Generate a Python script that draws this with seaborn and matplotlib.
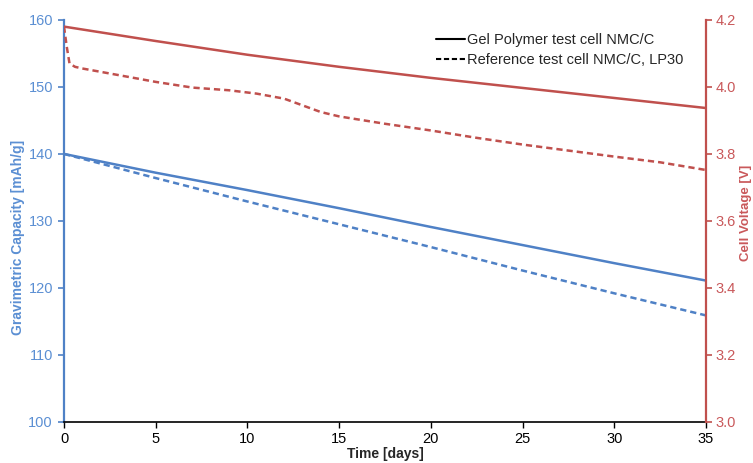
import matplotlib
matplotlib.use('Agg')
import matplotlib.pyplot as plt
import seaborn as sns
from matplotlib.lines import Line2D

# Data
dias = [0, 5, 10, 15, 20, 25, 30, 35]
capacidade_gel = [140.0, 137.2, 134.6, 131.9, 129.1, 126.4, 123.7, 121.1]
capacidade_ref = [140.0, 136.4, 132.9, 129.5, 126.1, 122.6, 119.2, 115.9]
tensao_gel = [4.180, 4.137, 4.096, 4.060, 4.027, 3.997, 3.967, 3.937]

dias_ref = [0, 0.15, 0.3, 0.6, 1, 2, 3, 5, 7, 9, 10.5, 12, 13, 14, 15,
            17.5, 20, 22.5, 25, 27.5, 30, 32.5, 35]
tensao_ref = [4.180, 4.120, 4.070, 4.060, 4.055, 4.045, 4.035, 4.015, 3.998,
              3.990, 3.980, 3.965, 3.945, 3.925, 3.912, 3.890, 3.870, 3.848,
              3.828, 3.810, 3.792, 3.775, 3.752]

legenda = ['Gel Polymer test cell NMC/C', 'Reference test cell NMC/C, LP30']

azul = '#4F81C6'
azul_txt = '#5B8FD3'
vermelho = '#C0504D'
vermelho_txt = '#C9585A'

sns.set_style('white')
plt.rcParams['font.family'] = ['Liberation Sans', 'DejaVu Sans']

fig = plt.figure(figsize=(7.53, 4.63), dpi=100)
ax = fig.add_axes([0.085, 0.0886, 0.8526, 0.8684])
ax2 = ax.twinx()

# Capacidade (eixo esquerdo)
sns.lineplot(x=dias, y=capacidade_gel, ax=ax, color=azul, linewidth=1.8)
sns.lineplot(x=dias, y=capacidade_ref, ax=ax, color=azul, linewidth=1.8,
             linestyle=(0, (2.5, 1.6)))

# Tensao (eixo direito)
sns.lineplot(x=dias, y=tensao_gel, ax=ax2, color=vermelho, linewidth=1.8)
sns.lineplot(x=dias_ref, y=tensao_ref, ax=ax2, color=vermelho, linewidth=1.8,
             linestyle=(0, (2.5, 1.6)))

ax.set_xlim(0, 35)
ax.set_ylim(100, 160)
ax2.set_ylim(3.0, 4.2)
ax.set_xticks(range(0, 36, 5))
ax.set_yticks(range(100, 161, 10))
ax2.set_yticks([3.0, 3.2, 3.4, 3.6, 3.8, 4.0, 4.2])
ax2.set_yticklabels([f'{v:.1f}' for v in [3.0, 3.2, 3.4, 3.6, 3.8, 4.0, 4.2]])

# Bordas
for a in (ax, ax2):
    a.spines['top'].set_visible(False)
    a.grid(False)
ax.spines['right'].set_visible(False)
ax.spines['left'].set_color(azul)
ax.spines['left'].set_linewidth(1.6)
ax.spines['bottom'].set_color('black')
ax.spines['bottom'].set_linewidth(1.2)
ax2.spines['left'].set_visible(False)
ax2.spines['bottom'].set_visible(False)
ax2.spines['right'].set_color(vermelho)
ax2.spines['right'].set_linewidth(1.6)

ax.tick_params(axis='y', direction='out', length=4, width=1.2, colors=azul,
               labelcolor=azul_txt, labelsize=10.5, left=True, pad=4)
ax.tick_params(axis='x', direction='out', length=4, width=1.0, colors='black',
               labelsize=10.5, bottom=True, pad=3)
ax2.tick_params(axis='y', direction='out', length=4, width=1.2, colors=vermelho,
                labelcolor=vermelho_txt, labelsize=10.5, right=True, pad=3)

ax.set_xlabel('Time [days]', fontsize=10, fontweight='bold', labelpad=1)
ax.set_ylabel('Gravimetric Capacity [mAh/g]', fontsize=10, fontweight='bold',
              color=azul_txt)
ax.yaxis.set_label_coords(-0.06, 0.46)
# rotulo direito: no original fica colado na borda, aqui fica inteiro
ax2.set_ylabel('Cell Voltage [V]', fontsize=9.5, fontweight='bold',
               color=vermelho_txt, rotation=90)
ax2.yaxis.set_label_coords(1.053, 0.52)

# Legenda em preto
handles = [Line2D([], [], color='black', linewidth=1.5),
           Line2D([], [], color='black', linewidth=1.5, linestyle=(0, (2.5, 1.3)))]
ax2.legend(handles, legenda, loc='upper right', bbox_to_anchor=(0.985, 1.0),
           frameon=False, fontsize=10.5, handlelength=2.0, handletextpad=0.1,
           labelspacing=0.4)

fig.savefig('out.png', dpi=100)
plt.close(fig)
